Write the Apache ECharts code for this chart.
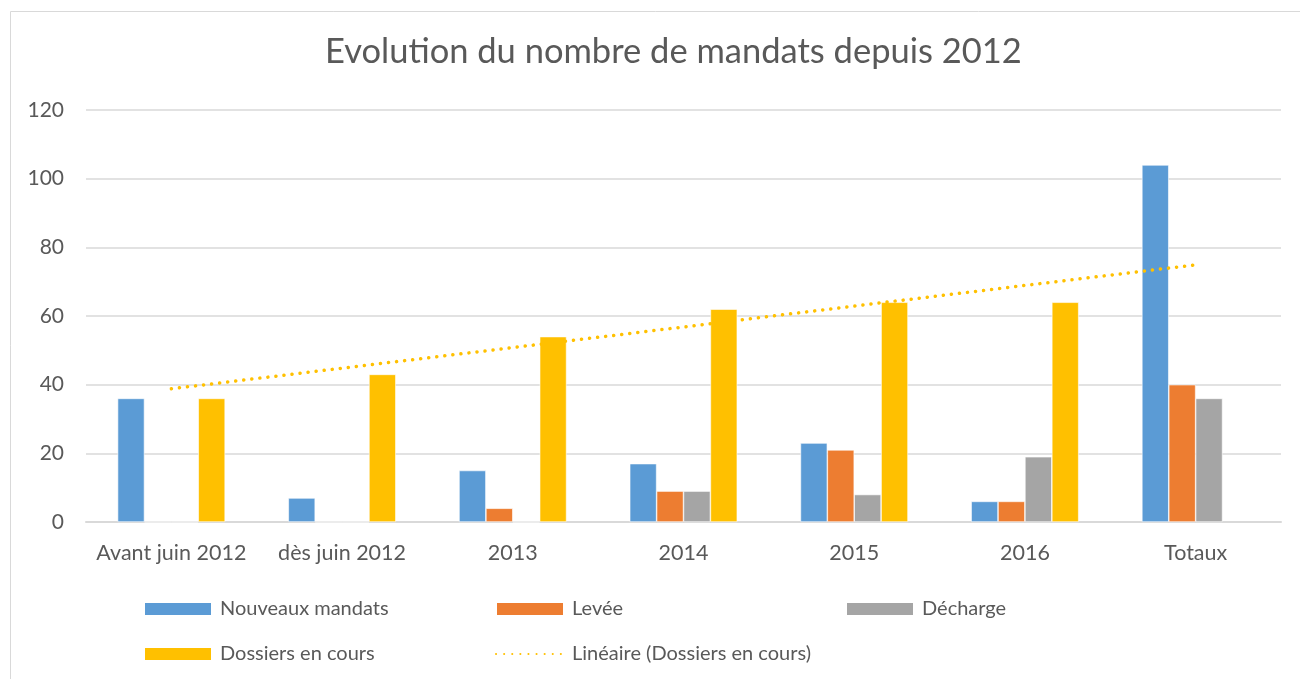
<!DOCTYPE html>
<html>
<head>
<meta charset="utf-8">
<script src="https://cdn.jsdelivr.net/npm/echarts@6/dist/echarts.min.js"></script>
<style>
  html, body { margin: 0; padding: 0; background: #fff; }
  #chart { width: 1300px; height: 679px; }
</style>
</head>
<body>
<div id="chart"></div>
<script>
// données
var categories = ['Avant juin 2012', 'dès juin 2012', '2013', '2014', '2015', '2016', 'Totaux'];
var nouveauxMandats = [36, 7, 15, 17, 23, 6, 104];
var levee = [0, 0, 4, 9, 21, 6, 40];
var decharge = [0, 0, 0, 9, 8, 19, 36];
var dossiersEnCours = [36, 43, 54, 62, 64, 64, null];
// courbe de tendance linéaire (Dossiers en cours)
var tendance = [38.8, 44.8, 50.8, 56.8, 62.9, 68.9, 74.9];
var yTicks = [0, 20, 40, 60, 80, 100, 120];

var font = 'Lato, "Open Sans", sans-serif';
var gris = '#595959';

var chart = echarts.init(document.getElementById('chart'));

function legende(nom, left, top, extra) {
  var l = {
    data: [nom],
    left: left,
    top: top,
    icon: 'rect',
    itemWidth: 68,
    itemHeight: 14,
    padding: 0,
    selectedMode: false,
    textStyle: { color: gris, fontSize: 20, fontFamily: font, padding: [0, 0, 0, 3] }
  };
  if (extra) {
    l.icon = undefined;
    l.data = [{ name: nom, itemStyle: { opacity: 0 } }];
  }
  return l;
}

var option = {
  animation: false,
  title: {
    text: 'Evolution du nombre de mandats depuis 2012',
    left: 320,
    top: 29,
    textStyle: { color: gris, fontSize: 34.5, fontWeight: 'normal', fontFamily: font }
  },
  graphic: [{
    type: 'rect',
    shape: { x: 10.5, y: 11.5, width: 1300, height: 700 },
    style: { fill: 'none', stroke: '#d9d9d9', lineWidth: 1 },
    silent: true
  }],
  legend: [
    legende('Nouveaux mandats', 143, 599),
    legende('Levée', 495, 599),
    legende('Décharge', 845, 599),
    legende('Dossiers en cours', 143, 644),
    legende('Linéaire (Dossiers en cours)', 495, 644, true)
  ],
  grid: { left: 86, right: 19, top: 110, bottom: 157 },
  xAxis: {
    type: 'category',
    data: categories,
    axisLine: { lineStyle: { color: '#d9d9d9', width: 2 } },
    axisTick: { show: false },
    axisLabel: { color: gris, fontSize: 21.5, fontFamily: font, margin: 20, interval: 0 }
  },
  yAxis: {
    type: 'value',
    min: yTicks[0],
    max: yTicks[yTicks.length - 1],
    interval: 20,
    axisLine: { show: false },
    axisTick: { show: false },
    axisLabel: { color: gris, fontSize: 21, fontFamily: font, margin: 22 },
    splitLine: { lineStyle: { color: '#d9d9d9', width: 1.5 } }
  },
  series: [
    {
      name: 'Nouveaux mandats', type: 'bar', data: nouveauxMandats,
      barGap: '0%', barCategoryGap: '37%',
      itemStyle: { color: '#5b9bd5', borderColor: '#ffffff', borderWidth: 0.6 }
    },
    {
      name: 'Levée', type: 'bar', data: levee,
      itemStyle: { color: '#ed7d31', borderColor: '#ffffff', borderWidth: 0.6 }
    },
    {
      name: 'Décharge', type: 'bar', data: decharge,
      itemStyle: { color: '#a5a5a5', borderColor: '#ffffff', borderWidth: 0.6 }
    },
    {
      name: 'Dossiers en cours', type: 'bar', data: dossiersEnCours,
      itemStyle: { color: '#ffc000', borderColor: '#ffffff', borderWidth: 0.6 }
    },
    {
      name: 'Linéaire (Dossiers en cours)', type: 'line', data: tendance,
      symbol: 'none', z: 5,
      itemStyle: { color: '#ffc000' },
      lineStyle: { color: '#ffc000', width: 3.5, type: [0.1, 8], cap: 'round' }
    }
  ]
};

chart.setOption(option);
</script>
</body>
</html>
